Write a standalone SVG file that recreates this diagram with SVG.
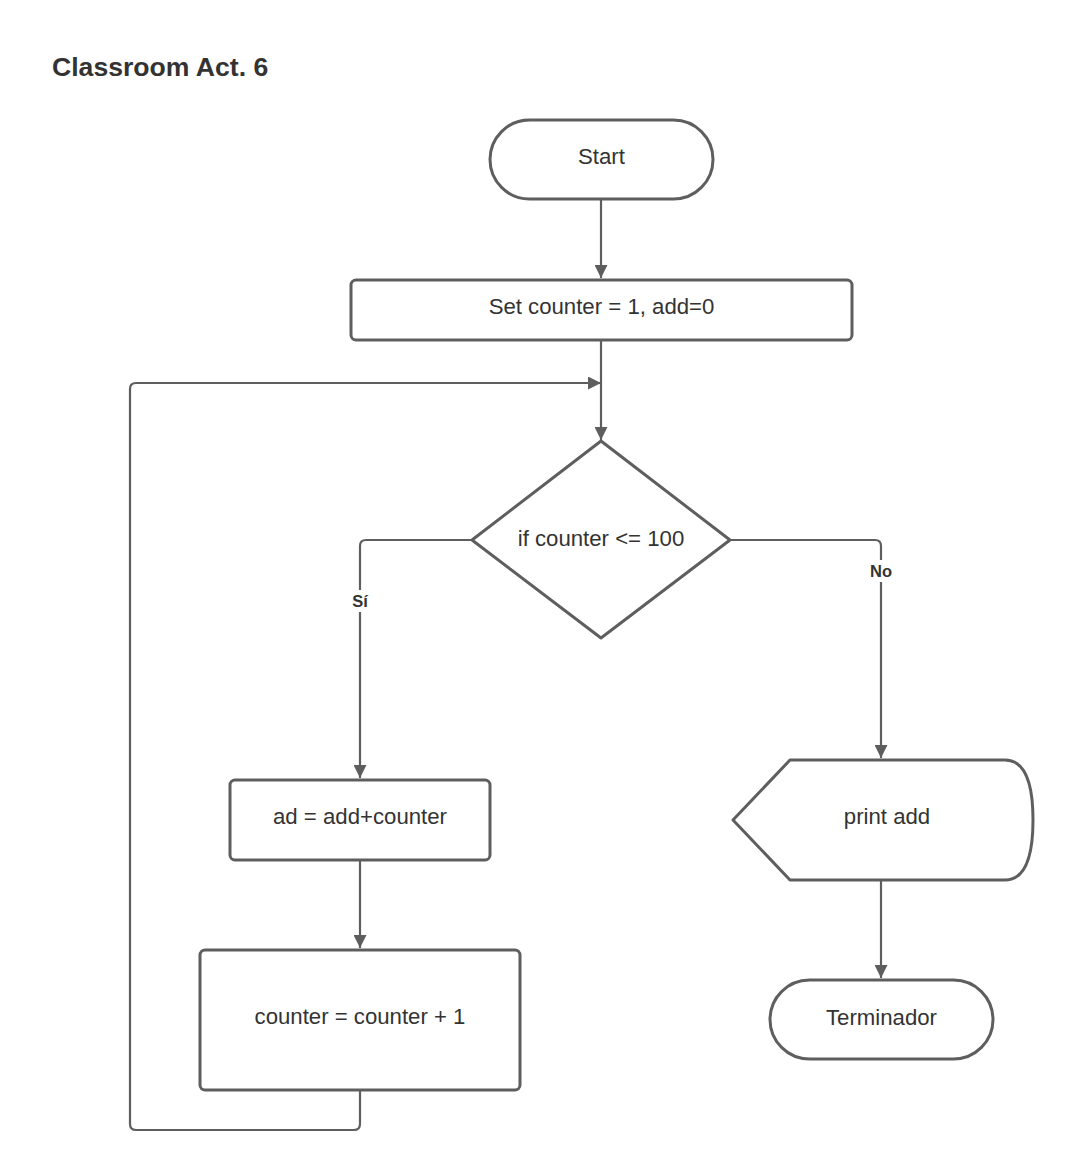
<svg xmlns="http://www.w3.org/2000/svg" width="1073" height="1173" viewBox="0 0 1073 1173">
<style>
.shape{fill:#ffffff;stroke:#5e5e5e;stroke-width:3;stroke-linejoin:round}
.conn{fill:none;stroke:#5e5e5e;stroke-width:2.2;stroke-linejoin:round}
.t{font-family:"Liberation Sans",Arial,sans-serif;font-size:22.2px;fill:#333333;text-anchor:middle}
.lbl{font-family:"Liberation Sans",Arial,sans-serif;font-size:16.5px;font-weight:bold;fill:#333333;text-anchor:middle}
.title{font-family:"Liberation Sans",Arial,sans-serif;font-size:26.6px;font-weight:bold;fill:#333333}
</style>
<defs>
<marker id="arr" viewBox="0 0 13 13" refX="13" refY="6.5" markerWidth="13" markerHeight="13" markerUnits="userSpaceOnUse" orient="auto">
<path d="M0,0 L13,6.5 L0,13 Z" fill="#5e5e5e"/>
</marker>
</defs>
<rect width="1073" height="1173" fill="#ffffff"/>
<text class="title" x="52" y="76">Classroom Act. 6</text>
<g id="connectors">
<path class="conn" d="M601,200 V278" marker-end="url(#arr)"/>
<path class="conn" d="M601,341 V440" marker-end="url(#arr)"/>
<path class="conn" d="M360,1091 V1124 Q360,1130 354,1130 H136 Q130,1130 130,1124 V389 Q130,383 136,383 H601" marker-end="url(#arr)"/>
<path class="conn" d="M472,540 H366 Q360,540 360,546 V778" marker-end="url(#arr)"/>
<path class="conn" d="M730,540 H875 Q881,540 881,546 V758" marker-end="url(#arr)"/>
<path class="conn" d="M360,861 V948" marker-end="url(#arr)"/>
<path class="conn" d="M881,881 V978" marker-end="url(#arr)"/>
<rect x="347" y="590" width="26" height="22" fill="#ffffff"/>
<text class="lbl" x="360" y="607">Sí</text>
<rect x="866" y="560" width="30" height="22" fill="#ffffff"/>
<text class="lbl" x="881" y="577">No</text>
</g>
<g id="start">
<rect class="shape" x="490" y="120" width="223" height="79" rx="39.5"/>
<text class="t" x="601.5" y="164">Start</text>
</g>
<g id="set">
<rect class="shape" x="351" y="280" width="501" height="60" rx="5"/>
<text class="t" x="601.5" y="314">Set counter = 1, add=0</text>
</g>
<g id="decision">
<path class="shape" d="M601,441 L730,540 L601,638 L472,540 Z"/>
<text class="t" x="601" y="546">if counter &lt;= 100</text>
</g>
<g id="ad">
<rect class="shape" x="230" y="780" width="260" height="80" rx="5"/>
<text class="t" x="360" y="824">ad = add+counter</text>
</g>
<g id="increment">
<rect class="shape" x="200" y="950" width="320" height="140" rx="5"/>
<text class="t" x="360" y="1024">counter = counter + 1</text>
</g>
<g id="print">
<path class="shape" d="M790,760 H1005 Q1033,760 1033,820 Q1033,880 1005,880 H790 L733,820 Z"/>
<text class="t" x="887" y="824">print add</text>
</g>
<g id="end">
<rect class="shape" x="770" y="980" width="223" height="79" rx="39.5"/>
<text class="t" x="881.5" y="1025">Terminador</text>
</g>
</svg>
